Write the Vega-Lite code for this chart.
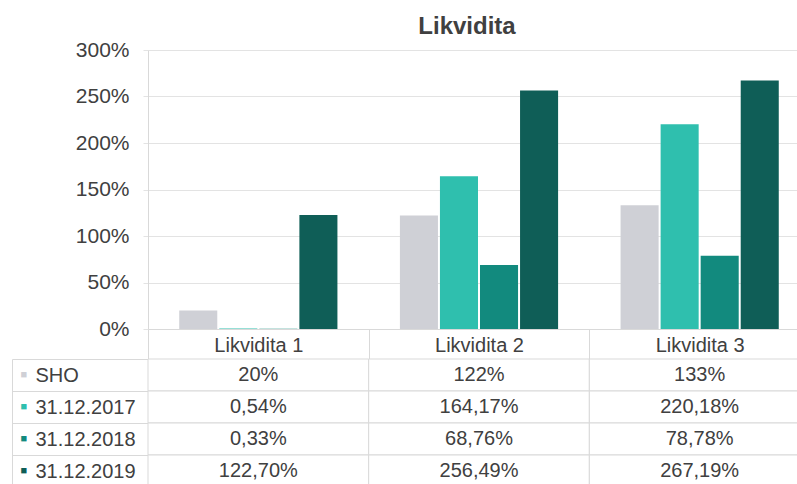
{
  "$schema": "https://vega.github.io/schema/vega-lite/v6.json",
  "background": "white",
  "padding": {"left": 11, "top": 15, "right": 0, "bottom": 0},
  "config": {"view": {"stroke": null}, "font": "Liberation Sans"},
  "bounds": "flush",
  "spacing": 30,
  "resolve": {"scale": {"x": "independent", "y": "independent"}},
  "data": {
    "values": [
      {"group": "Likvidita 1", "series": "SHO", "value": 20, "label": "20%"},
      {"group": "Likvidita 1", "series": "31.12.2017", "value": 0.54, "label": "0,54%"},
      {"group": "Likvidita 1", "series": "31.12.2018", "value": 0.33, "label": "0,33%"},
      {"group": "Likvidita 1", "series": "31.12.2019", "value": 122.7, "label": "122,70%"},
      {"group": "Likvidita 2", "series": "SHO", "value": 122, "label": "122%"},
      {"group": "Likvidita 2", "series": "31.12.2017", "value": 164.17, "label": "164,17%"},
      {"group": "Likvidita 2", "series": "31.12.2018", "value": 68.76, "label": "68,76%"},
      {"group": "Likvidita 2", "series": "31.12.2019", "value": 256.49, "label": "256,49%"},
      {"group": "Likvidita 3", "series": "SHO", "value": 133, "label": "133%"},
      {"group": "Likvidita 3", "series": "31.12.2017", "value": 220.18, "label": "220,18%"},
      {"group": "Likvidita 3", "series": "31.12.2018", "value": 78.78, "label": "78,78%"},
      {"group": "Likvidita 3", "series": "31.12.2019", "value": 267.19, "label": "267,19%"}
    ]
  },
  "vconcat": [
    {
      "width": 662,
      "height": 279,
      "title": {"text": "Likvidita", "fontSize": 24, "fontWeight": "bold", "color": "#404040", "anchor": "middle", "dx": -12, "offset": 0},
      "mark": {"type": "bar"},
      "encoding": {
        "x": {
          "field": "group", "type": "nominal",
          "sort": ["Likvidita 1", "Likvidita 2", "Likvidita 3"],
          "scale": {"type": "band", "paddingInner": 0, "paddingOuter": 0},
          "axis": {"title": null, "labelAngle": 0, "labelFontSize": 20, "labelColor": "#404040", "tickBand": "extent", "tickSize": 30, "tickColor": "#d9d9d9", "domainColor": "#d9d9d9", "labelPadding": -14, "labelBaseline": "middle"}
        },
        "xOffset": {
          "field": "series", "type": "nominal",
          "sort": ["SHO", "31.12.2017", "31.12.2018", "31.12.2019"],
          "scale": {"paddingInner": 0.05, "paddingOuter": 0.78}
        },
        "y": {
          "field": "value", "type": "quantitative",
          "scale": {"domain": [0, 300], "nice": false},
          "axis": {"title": null, "values": [0, 50, 100, 150, 200, 250, 300], "labelExpr": "datum.value + '%'", "labelFontSize": 21, "labelColor": "#404040", "gridColor": "#e3e3e3", "tickColor": "#e3e3e3", "tickSize": 5, "domainColor": "#d9d9d9", "labelPadding": 14}
        },
        "color": {
          "field": "series", "type": "nominal",
          "scale": {"domain": ["SHO", "31.12.2017", "31.12.2018", "31.12.2019"], "range": ["#cfd0d6", "#2fbfae", "#128a7e", "#0f5e57"]},
          "legend": null
        }
      }
    },
    {
      "width": 662,
      "height": 128,
      "layer": [
        {
          "mark": {"type": "rect", "fill": "white", "stroke": "#d9d9d9", "strokeWidth": 1},
          "encoding": {
            "x": {"field": "group", "type": "nominal", "sort": ["Likvidita 1", "Likvidita 2", "Likvidita 3"], "scale": {"type": "band", "paddingInner": 0, "paddingOuter": 0}, "axis": null},
            "y": {
              "field": "series", "type": "nominal",
              "sort": ["SHO", "31.12.2017", "31.12.2018", "31.12.2019"],
              "scale": {"type": "band", "paddingInner": 0, "paddingOuter": 0},
              "axis": {
                "orient": "left", "offset": 136, "title": null, "domain": true, "domainColor": "#d9d9d9", "ticks": false, "grid": false,
                "labelExpr": "'■'", "labelFontSize": 11, "labelAlign": "left", "labelPadding": -8, "labelBaseline": "middle",
                "labelColor": {"condition": [
                  {"test": "datum.value === 'SHO'", "value": "#cfd0d6"},
                  {"test": "datum.value === '31.12.2017'", "value": "#2fbfae"},
                  {"test": "datum.value === '31.12.2018'", "value": "#128a7e"}
                ], "value": "#0f5e57"}
              }
            }
          }
        },
        {
          "mark": {"type": "text", "fontSize": 20, "color": "#404040"},
          "encoding": {
            "x": {"field": "group", "type": "nominal", "sort": ["Likvidita 1", "Likvidita 2", "Likvidita 3"], "scale": {"type": "band", "paddingInner": 0, "paddingOuter": 0}, "axis": null},
            "y": {
              "field": "series", "type": "nominal",
              "sort": ["SHO", "31.12.2017", "31.12.2018", "31.12.2019"],
              "scale": {"type": "band", "paddingInner": 0, "paddingOuter": 0},
              "axis": {
                "orient": "left", "title": null, "domain": false, "ticks": true, "tickBand": "extent", "tickSize": 136, "tickColor": "#d9d9d9", "grid": false,
                "labelAlign": "left", "labelPadding": -23, "labelFontSize": 20, "labelColor": "#404040", "labelBaseline": "middle"
              }
            },
            "text": {"field": "label"}
          }
        }
      ],
      "resolve": {"axis": {"y": "independent"}}
    }
  ]
}
